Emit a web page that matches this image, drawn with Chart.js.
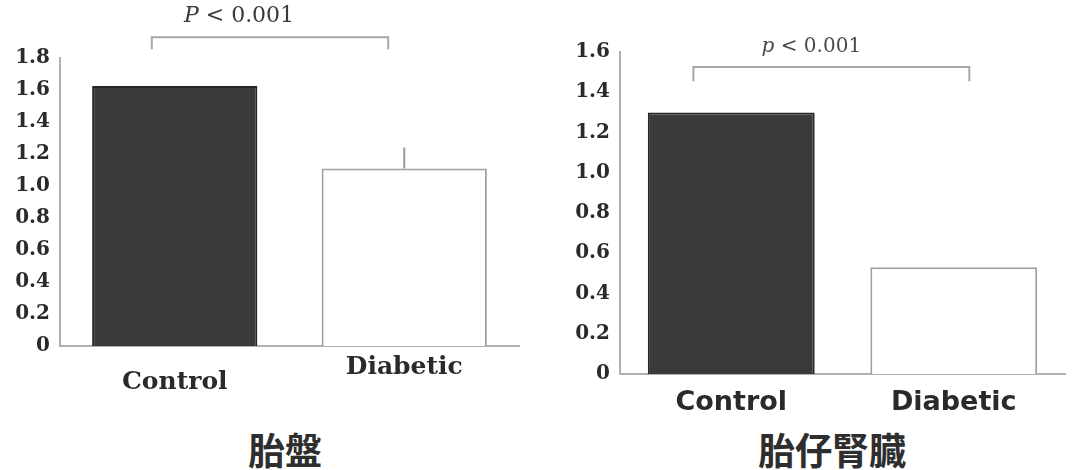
<!DOCTYPE html>
<html>
<head>
<meta charset="utf-8">
<script src="https://cdn.jsdelivr.net/npm/chart.js@4"></script>
<style>
  body { margin: 0; background: #fff; width: 1075px; height: 470px; position: relative; overflow: hidden; }
  .box { position: absolute; top: 0; height: 420px; }
  .title { position: absolute; top: 429px; line-height: 40px; font-family: "Noto Sans CJK JP", sans-serif; font-weight: bold; font-size: 37px; color: #2e2e2e; transform: translateX(-50%); white-space: nowrap; }
</style>
</head>
<body>
<div class="box" style="left:0; width:540px;"><canvas id="placenta"></canvas></div>
<div class="box" style="left:540px; width:535px;"><canvas id="kidney"></canvas></div>
<div class="title" style="left:285px;">胎盤</div>
<div class="title" style="left:832px;">胎仔腎臓</div>
<script>
const categories = ['Control', 'Diabetic'];

// placenta (left)
const placentaValues = [1.625, 1.11];
const placentaErrors = [0, 0.13];
const placentaMax = 1.8;
const placentaPText = ['P', ' < 0.001'];   // first part italic

// fetal kidney (right)
const kidneyValues = [1.3, 0.53];
const kidneyErrors = [0, 0];
const kidneyMax = 1.6;
const kidneyPText = ['p', ' < 0.001'];

const tickStep = 0.2;

// bracket + error bars, drawn from the chart's own scales
const extras = {
    id: 'extras',
    afterDatasetsDraw(chart, args, opts) {
        const ctx = chart.ctx;
        const x = chart.scales.x, y = chart.scales.y;
        ctx.save();
        // error bars
        ctx.strokeStyle = '#9a9a9a';
        ctx.lineWidth = 2;
        opts.errors.forEach((e, i) => {
            if (!e) return;
            const px = x.getPixelForValue(i);
            ctx.beginPath();
            ctx.moveTo(px, y.getPixelForValue(opts.values[i]));
            ctx.lineTo(px, y.getPixelForValue(opts.values[i] + e));
            ctx.stroke();
        });
        // significance bracket
        const x1 = x.getPixelForValue(opts.from);
        const x2 = x.getPixelForValue(opts.to);
        const yt = y.getPixelForValue(opts.top);
        const yb = y.getPixelForValue(opts.drop);
        ctx.strokeStyle = '#a8a8a8';
        ctx.lineWidth = 2;
        ctx.beginPath();
        ctx.moveTo(x1, yb);
        ctx.lineTo(x1, yt);
        ctx.lineTo(x2, yt);
        ctx.lineTo(x2, yb);
        ctx.stroke();
        // p value text, italic letter then upright rest
        ctx.fillStyle = opts.color;
        ctx.textBaseline = 'middle';
        ctx.textAlign = 'left';
        const fItal = 'italic ' + opts.weight + ' ' + opts.size + 'px "DejaVu Serif"';
        const fReg = opts.weight + ' ' + opts.size + 'px "DejaVu Serif"';
        ctx.font = fItal;
        const w1 = ctx.measureText(opts.text[0]).width;
        ctx.font = fReg;
        const w2 = ctx.measureText(opts.text[1]).width;
        let tx = x.getPixelForValue(opts.textAt) - (w1 + w2) / 2;
        const ty = y.getPixelForValue(opts.textY);
        ctx.font = fItal;
        ctx.fillText(opts.text[0], tx, ty);
        ctx.font = fReg;
        ctx.fillText(opts.text[1], tx + w1, ty);
        ctx.restore();
    }
};

function makeChart(id, values, errors, max, cfg) {
    return new Chart(document.getElementById(id), {
        type: 'bar',
        data: {
            labels: categories,
            datasets: [{
                data: values,
                backgroundColor: ['#3a3a3a', '#ffffff'],
                borderColor: ['#262626', '#a0a0a0'],
                borderWidth: 2,
                barPercentage: cfg.barPct,
                categoryPercentage: 1
            }]
        },
        options: {
            responsive: true,
            maintainAspectRatio: false,
            animation: false,
            layout: { padding: cfg.padding },
            plugins: {
                legend: { display: false },
                tooltip: { enabled: false },
                extras: Object.assign({ values: values, errors: errors }, cfg.bracket)
            },
            scales: {
                x: {
                    grid: { display: false, drawTicks: false },
                    border: { color: '#b0b0b0', width: 2 },
                    ticks: { color: '#2a2a2a', padding: cfg.xPad, font: cfg.xFont },
                    afterFit: s => { s.height = cfg.xHeight; }
                },
                y: {
                    min: 0,
                    max: max,
                    grid: { display: false, drawTicks: false },
                    border: { color: '#b0b0b0', width: 2 },
                    ticks: {
                        stepSize: tickStep,
                        color: '#2a2a2a',
                        padding: 10,
                        font: { family: 'DejaVu Serif', size: 20, weight: 'bold' },
                        callback: v => v === 0 ? '0' : v.toFixed(1)
                    },
                    afterFit: s => { s.width = cfg.yWidth; }
                }
            }
        },
        plugins: [extras]
    });
}

makeChart('placenta', placentaValues, placentaErrors, placentaMax, {
    padding: { top: 58, left: 2, right: 21, bottom: 0 },
    yWidth: 58,
    xHeight: 74,
    xPad: 9,
    barPct: 0.72,
    // the reference sets "Control" lower than "Diabetic"
    xFont: c => ({ family: 'DejaVu Serif', size: 25, weight: 'bold', lineHeight: c.index === 0 ? '55px' : '25px' }),
    bracket: { from: -0.1, to: 0.93, top: 1.93, drop: 1.855, text: placentaPText, textAt: 0.28, textY: 2.06,
               size: 22, weight: 'normal', color: '#3a3a3a' }
});

makeChart('kidney', kidneyValues, kidneyErrors, kidneyMax, {
    padding: { top: 52, left: 0, right: 10, bottom: 0 },
    yWidth: 80,
    xHeight: 46,
    xPad: 13,
    barPct: 0.75,
    xFont: { family: 'DejaVu Sans', size: 27, weight: 'bold', lineHeight: 1.2 },
    bracket: { from: -0.17, to: 1.07, top: 1.525, drop: 1.455, text: kidneyPText, textAt: 0.36, textY: 1.625,
               size: 20, weight: 'normal', color: '#4a4a4a' }
});
</script>
</body>
</html>
